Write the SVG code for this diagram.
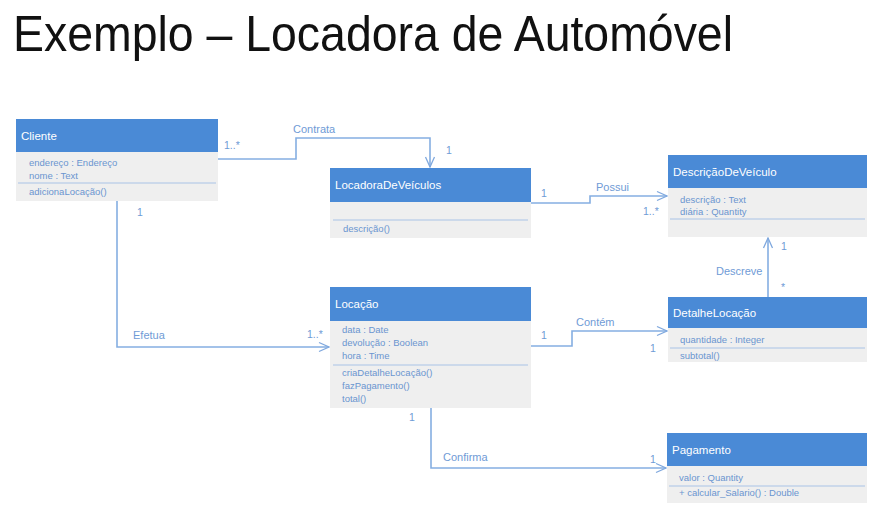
<svg xmlns="http://www.w3.org/2000/svg" width="869" height="518" viewBox="0 0 869 518">
<defs>
<marker id="open" viewBox="0 0 12 12" refX="11" refY="6" markerWidth="12" markerHeight="12" markerUnits="userSpaceOnUse" orient="auto">
<path d="M1,1.5 L11,6 L1,10.5" fill="none" stroke="#7fa8de" stroke-width="1.3"/>
</marker>
</defs>
<style>
.hdr{fill:#4a8ad6}
.body{fill:#efefef}
.div{stroke:#a9c3e6;stroke-width:1}
.ht{font-family:"Liberation Sans",Arial,sans-serif;font-size:11.5px;fill:#ffffff}
.bt{font-family:"Liberation Sans",Arial,sans-serif;font-size:9.5px;fill:#6a95d0}
.lbl{font-family:"Liberation Sans",Arial,sans-serif;font-size:11px;fill:#6f9bd6}
.mul{font-family:"Liberation Sans",Arial,sans-serif;font-size:10.5px;fill:#6f9bd6}
.ln{fill:none;stroke:#85aee2;stroke-width:1.6}
.title{font-family:"Liberation Sans",Arial,sans-serif;font-size:50px;fill:#111111}
</style>
<rect width="869" height="518" fill="#ffffff"/>
<text class="title" x="13" y="51" textLength="720" lengthAdjust="spacingAndGlyphs">Exemplo – Locadora de Automóvel</text>

<g id="connectors">
<polyline class="ln" points="218,159 296,159 296,138 430,138 430,167" marker-end="url(#open)"/>
<polyline class="ln" points="531,203 590,203 590,196 667,196" marker-end="url(#open)"/>
<polyline class="ln" points="768,297 768,238" marker-end="url(#open)"/>
<polyline class="ln" points="531,346 572,346 572,331 667,331" marker-end="url(#open)"/>
<polyline class="ln" points="117,201 117,347 329,347" marker-end="url(#open)"/>
<polyline class="ln" points="431,408 431,468 666,468" marker-end="url(#open)"/>
<text class="lbl" x="293" y="133">Contrata</text>
<text class="mul" x="224" y="149">1..*</text>
<text class="mul" x="446" y="154">1</text>
<text class="lbl" x="596" y="191">Possui</text>
<text class="mul" x="541" y="197">1</text>
<text class="mul" x="643" y="215">1..*</text>
<text class="lbl" x="716" y="275">Descreve</text>
<text class="mul" x="781" y="250">1</text>
<text class="mul" x="781" y="291">*</text>
<text class="lbl" x="576" y="326">Contém</text>
<text class="mul" x="541" y="339">1</text>
<text class="mul" x="650" y="352">1</text>
<text class="lbl" x="133" y="339">Efetua</text>
<text class="mul" x="137" y="216">1</text>
<text class="mul" x="307" y="338">1..*</text>
<text class="lbl" x="443" y="461">Confirma</text>
<text class="mul" x="409" y="421">1</text>
<text class="mul" x="650" y="463">1</text>
</g>

<g id="cliente">
<rect class="body" x="16" y="119" width="202" height="82"/>
<rect class="hdr" x="16" y="119" width="202" height="33"/>
<text class="ht" x="21" y="140">Cliente</text>
<text class="bt" x="29" y="166">endereço : Endereço</text>
<text class="bt" x="29" y="179">nome : Text</text>
<line class="div" x1="18" y1="183" x2="216" y2="183"/>
<text class="bt" x="29" y="195">adicionaLocação()</text>
</g>

<g id="locadora">
<rect class="body" x="330" y="168" width="201" height="70"/>
<rect class="hdr" x="330" y="168" width="201" height="34"/>
<text class="ht" x="335" y="189">LocadoraDeVeículos</text>
<line class="div" x1="333" y1="220" x2="528" y2="220"/>
<text class="bt" x="343" y="232">descrição()</text>
</g>

<g id="descricao">
<rect class="body" x="668" y="155" width="199" height="82"/>
<rect class="hdr" x="668" y="155" width="199" height="33"/>
<text class="ht" x="673" y="176">DescriçãoDeVeículo</text>
<text class="bt" x="680" y="203">descrição : Text</text>
<text class="bt" x="680" y="215">diária : Quantity</text>
<line class="div" x1="670" y1="219" x2="865" y2="219"/>
</g>

<g id="locacao">
<rect class="body" x="330" y="287" width="201" height="121"/>
<rect class="hdr" x="330" y="287" width="201" height="34"/>
<text class="ht" x="335" y="308">Locação</text>
<text class="bt" x="342" y="333">data : Date</text>
<text class="bt" x="342" y="346">devolução : Boolean</text>
<text class="bt" x="342" y="359">hora : Time</text>
<line class="div" x1="333" y1="365" x2="528" y2="365"/>
<text class="bt" x="342" y="376">criaDetalheLocação()</text>
<text class="bt" x="342" y="389">fazPagamento()</text>
<text class="bt" x="342" y="402">total()</text>
</g>

<g id="detalhe">
<rect class="body" x="668" y="297" width="199" height="65"/>
<rect class="hdr" x="668" y="297" width="199" height="31"/>
<text class="ht" x="673" y="317">DetalheLocação</text>
<text class="bt" x="680" y="343">quantidade : Integer</text>
<line class="div" x1="670" y1="348" x2="865" y2="348"/>
<text class="bt" x="680" y="359">subtotal()</text>
</g>

<g id="pagamento">
<rect class="body" x="667" y="433" width="200" height="70"/>
<rect class="hdr" x="667" y="433" width="200" height="33"/>
<text class="ht" x="672" y="454">Pagamento</text>
<text class="bt" x="679" y="481">valor : Quantity</text>
<line class="div" x1="669" y1="486" x2="865" y2="486"/>
<text class="bt" x="679" y="496">+ calcular_Salario() : Double</text>
</g>
</svg>
